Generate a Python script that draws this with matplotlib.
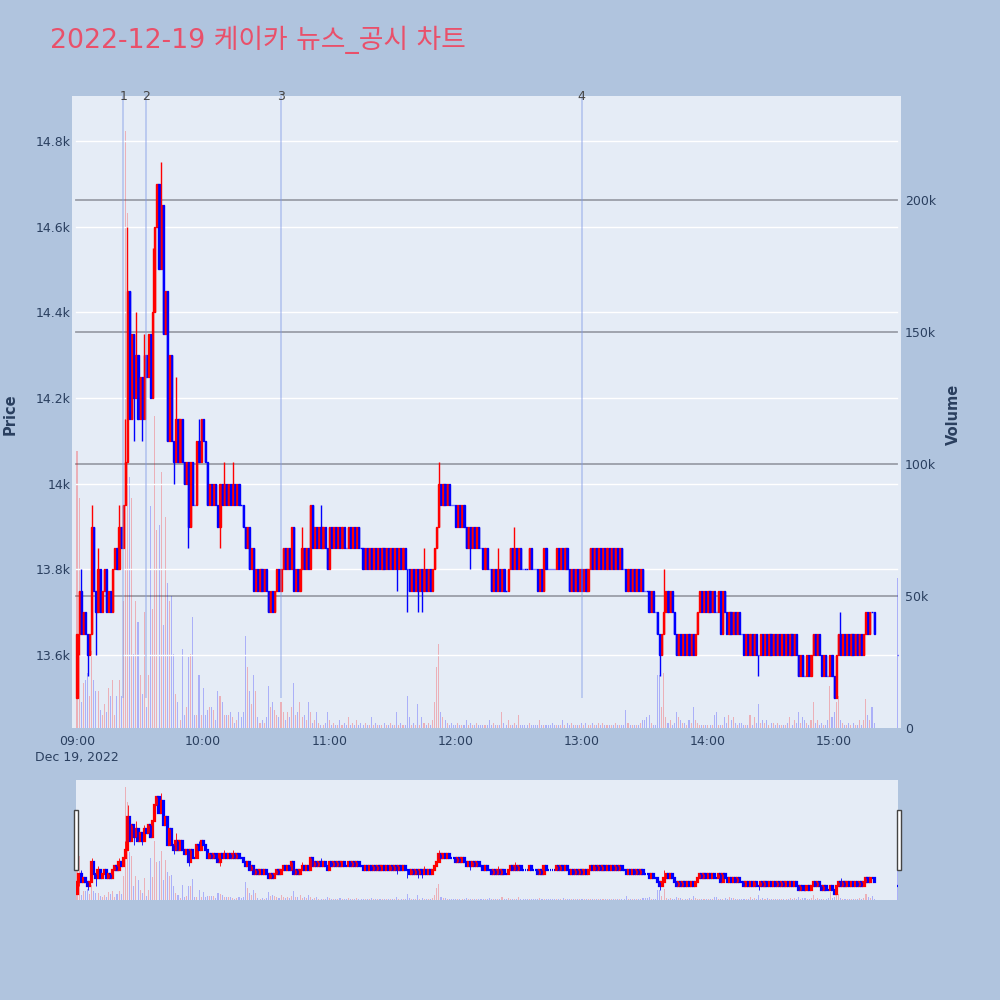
import matplotlib
matplotlib.use("Agg")
import matplotlib.pyplot as plt
import matplotlib.transforms as mtransforms
from matplotlib.patches import Rectangle
import numpy as np

plt.rcParams["font.family"] = ["Noto Sans CJK KR", "DejaVu Sans"]

TITLE = "2022-12-19 케이카 뉴스_공시 차트"

# 1-minute closes from 09:00 (index 0) to 15:19, opens chain from the previous close
first_open = 13500
closes = [
    13650, 13750, 13650, 13700, 13650, 13600, 13650, 13900, 13750, 13700,  # 09:00
    13800, 13700, 13750, 13800, 13700, 13750, 13700, 13800, 13850, 13800,  # 09:10
    13900, 13850, 13950, 14050, 14450, 14150, 14350, 14200, 14300, 14150,  # 09:20
    14250, 14150, 14300, 14250, 14350, 14200, 14400, 14600, 14700, 14500,  # 09:30
    14650, 14350, 14450, 14100, 14300, 14100, 14050, 14150, 14050, 14150,  # 09:40
    14050, 14000, 14050, 13900, 14050, 13950, 13950, 14100, 14050, 14150,  # 09:50
    14100, 14050, 13950, 14000, 13950, 14000, 13950, 13900, 14000, 13950,  # 10:00
    14000, 13950, 14000, 13950, 14000, 13950, 14000, 13950, 13950, 13900,  # 10:10
    13850, 13900, 13800, 13850, 13750, 13800, 13750, 13800, 13750, 13800,  # 10:20
    13750, 13700, 13750, 13700, 13750, 13800, 13750, 13800, 13850, 13800,  # 10:30
    13850, 13800, 13900, 13750, 13800, 13750, 13800, 13850, 13800, 13850,  # 10:40
    13800, 13950, 13850, 13900, 13850, 13900, 13850, 13900, 13850, 13800,  # 10:50
    13900, 13850, 13900, 13850, 13900, 13850, 13900, 13850, 13850, 13900,  # 11:00
    13850, 13900, 13850, 13900, 13850, 13850, 13800, 13850, 13800, 13850,  # 11:10
    13800, 13850, 13800, 13850, 13800, 13850, 13800, 13850, 13800, 13850,  # 11:20
    13800, 13850, 13800, 13850, 13800, 13850, 13800, 13800, 13750, 13800,  # 11:30
    13750, 13800, 13750, 13800, 13750, 13800, 13750, 13800, 13750, 13800,  # 11:40
    13850, 13900, 14000, 13950, 14000, 13950, 14000, 13950, 13950, 13950,  # 11:50
    13900, 13950, 13900, 13950, 13900, 13850, 13900, 13850, 13900, 13850,  # 12:00
    13900, 13850, 13850, 13800, 13850, 13800, 13800, 13750, 13800, 13750,  # 12:10
    13800, 13750, 13800, 13750, 13750, 13800, 13850, 13800, 13850, 13800,  # 12:20
    13850, 13800, 13800, 13800, 13800, 13850, 13800, 13800, 13800, 13750,  # 12:30
    13800, 13750, 13850, 13800, 13800, 13800, 13800, 13800, 13850, 13800,  # 12:40
    13850, 13800, 13850, 13800, 13750, 13800, 13750, 13800, 13750, 13800,  # 12:50
    13750, 13800, 13750, 13800, 13850, 13800, 13850, 13800, 13850, 13800,  # 13:00
    13850, 13800, 13850, 13800, 13850, 13800, 13850, 13800, 13850, 13800,  # 13:10
    13800, 13750, 13800, 13750, 13800, 13750, 13800, 13750, 13800, 13750,  # 13:20
    13750, 13750, 13700, 13750, 13700, 13700, 13650, 13600, 13650, 13700,  # 13:30
    13750, 13700, 13750, 13700, 13650, 13600, 13650, 13600, 13650, 13600,  # 13:40
    13650, 13600, 13650, 13600, 13650, 13700, 13750, 13700, 13750, 13700,  # 13:50
    13750, 13700, 13750, 13700, 13700, 13750, 13650, 13750, 13700, 13650,  # 14:00
    13700, 13650, 13700, 13650, 13700, 13650, 13650, 13600, 13650, 13600,  # 14:10
    13650, 13600, 13650, 13600, 13600, 13650, 13600, 13650, 13600, 13650,  # 14:20
    13600, 13650, 13600, 13650, 13600, 13650, 13600, 13650, 13600, 13650,  # 14:30
    13600, 13650, 13600, 13550, 13600, 13550, 13550, 13600, 13550, 13600,  # 14:40
    13650, 13600, 13650, 13600, 13550, 13600, 13550, 13550, 13600, 13550,  # 14:50
    13500, 13600, 13650, 13600, 13650, 13600, 13650, 13600, 13650, 13600,  # 15:00
    13650, 13600, 13650, 13600, 13650, 13700, 13650, 13700, 13700, 13650,  # 15:10
]
# wicks beyond the bodies: minute index -> price
wick_high = {2: 13800, 7: 13950, 10: 13850, 20: 13950, 23: 14150, 24: 14600,
             28: 14400, 32: 14350, 36: 14550, 39: 14650, 40: 14750, 47: 14250,
             58: 14150, 70: 14050, 74: 14050, 102: 13900, 107: 13900, 116: 13950,
             165: 13850, 172: 14050, 200: 13850, 208: 13900, 279: 13800,
             363: 13700}
wick_low = {1: 13600, 5: 13550, 9: 13600, 27: 14100, 31: 14100, 46: 14000,
            53: 13850, 68: 13850, 119: 13800, 152: 13750, 157: 13700,
            162: 13700, 164: 13700, 187: 13800, 277: 13550, 324: 13550,
            360: 13500}

# volume per minute, thousands of shares
volumes_k = [
    105, 87, 10, 17, 18, 21, 12, 29, 18, 14, 14, 7, 5, 9, 6, 15, 12, 18, 5, 12,
    18, 12, 48, 226, 195, 95, 87, 28, 48, 40, 20, 13, 44, 8, 20, 84, 45, 118, 75, 77,
    97, 39, 80, 55, 48, 50, 28, 13, 10, 3, 30, 5, 8, 27, 28, 42, 5, 5, 20, 5,
    15, 5, 7, 8, 8, 7, 3, 14, 12, 10, 5, 5, 5, 6, 4, 2, 3, 6, 4, 6,
    35, 23, 14, 9, 20, 14, 4, 2, 3, 2, 4, 16, 8, 10, 7, 5, 4, 10, 6, 3,
    6, 4, 8, 17, 5, 6, 10, 4, 5, 3, 10, 6, 2, 3, 6, 2, 1, 1, 2, 6,
    3, 1, 2, 1, 1, 3, 1, 2, 1, 4, 1, 2, 1, 3, 1, 2, 1, 2, 1, 1,
    4, 1, 2, 1, 1, 1, 2, 1, 1, 2, 1, 1, 6, 1, 2, 1, 1, 12, 4, 1,
    2, 1, 9, 1, 4, 2, 1, 2, 1, 3, 10, 23, 32, 6, 4, 3, 2, 1, 2, 1,
    1, 2, 1, 1, 1, 3, 1, 2, 1, 1, 2, 1, 1, 1, 1, 1, 3, 1, 2, 1,
    1, 1, 6, 2, 1, 3, 1, 1, 2, 1, 5, 1, 1, 1, 1, 2, 1, 1, 1, 1,
    3, 1, 1, 1, 1, 1, 2, 1, 1, 1, 1, 3, 1, 2, 1, 2, 1, 1, 1, 1,
    2, 1, 2, 1, 1, 2, 1, 1, 2, 1, 2, 1, 1, 1, 1, 1, 2, 1, 1, 1,
    1, 7, 2, 1, 1, 1, 1, 1, 2, 3, 3, 4, 5, 2, 1, 1, 20, 20, 8, 21,
    4, 2, 3, 1, 2, 6, 4, 3, 2, 2, 1, 3, 2, 8, 3, 2, 1, 1, 1, 1,
    1, 1, 1, 5, 6, 1, 1, 1, 4, 2, 5, 3, 4, 2, 1, 2, 2, 1, 1, 1,
    5, 1, 4, 2, 9, 2, 3, 2, 3, 1, 2, 2, 1, 2, 1, 1, 1, 1, 2, 4,
    1, 3, 2, 6, 2, 4, 3, 2, 1, 3, 10, 2, 3, 1, 2, 1, 1, 3, 16, 4,
    6, 10, 12, 3, 2, 1, 1, 2, 1, 2, 1, 1, 3, 1, 3, 11, 5, 3, 8, 2,
]
# closing auction at 15:30
auction_minute = 390
auction_price = 13600
auction_volume_k = 57

event_times = ["09:22", "09:33", "10:37", "13:00"]
event_labels = ["1", "2", "3", "4"]

time_ticks = ["09:00", "10:00", "11:00", "12:00", "13:00", "14:00", "15:00"]
price_ticks = [13600, 13800, 14000, 14200, 14400, 14600, 14800]
volume_ticks = [0, 50000, 100000, 150000, 200000]

UP = "#ff0000"
DOWN = "#0000ff"
BG = "#B0C4DE"
PLOT_BG = "#E5ECF6"
TXT = "#2a3f5f"


def to_minute(hhmm):
    h, m = hhmm.split(":")
    return (int(h) - 9) * 60 + int(m)


# assemble OHLC
x = list(range(len(closes))) + [auction_minute]
c = np.array(closes + [auction_price], dtype=float)
o = np.concatenate([[first_open], c[:-2], [auction_price]])
hi = np.maximum(o, c)
lo = np.minimum(o, c)
for k, v in wick_high.items():
    hi[k] = max(hi[k], v)
for k, v in wick_low.items():
    lo[k] = min(lo[k], v)
x = np.array(x, dtype=float)
vol = np.array(volumes_k + [auction_volume_k], dtype=float) * 1000
col = np.where(c > o, UP, DOWN)

PRICE_LIM = (13429.6, 14905)
VOL_LIM = (0, 239400)


def draw(ax_vol, ax_p, body_w, wick_lw, edge_lw, bar_w):
    ax_vol.bar(x, vol, width=bar_w, color=col, alpha=0.25, linewidth=0)
    ax_p.vlines(x, lo, hi, colors=col, linewidth=wick_lw)
    ax_p.bar(x, c - o, bottom=o, width=body_w, color=col, edgecolor=col,
             linewidth=edge_lw)
    ax_vol.set_ylim(*VOL_LIM)
    ax_p.set_ylim(*PRICE_LIM)


fig = plt.figure(figsize=(10, 10), dpi=100, facecolor=BG)

# ---- main chart
ax_vol = fig.add_axes([0.072, 0.272, 0.829, 0.632])
ax_vol.set_facecolor(PLOT_BG)
ax_p = ax_vol.twinx()
ax_vol.set_zorder(0)
ax_p.set_zorder(1)
ax_p.patch.set_visible(False)
xlim = (-2.38, 391.8)
ax_vol.set_xlim(*xlim)

draw(ax_vol, ax_p, body_w=0.55, wick_lw=1.0, edge_lw=1.0, bar_w=0.5)

for v in volume_ticks[1:]:
    ax_vol.axhline(v, xmin=0.005, xmax=0.995, color="#9a9ea8", linewidth=1.3, zorder=0.5)
for p in price_ticks:
    ax_p.axhline(p, xmin=0.005, xmax=0.995, color="white", linewidth=1.0, zorder=0.5)

# event markers
trans = mtransforms.blended_transform_factory(ax_p.transData, ax_p.transAxes)
for t, lab in zip(event_times, event_labels):
    m = to_minute(t)
    ax_p.vlines(m, 13500, PRICE_LIM[1], colors="#7f99e6", alpha=0.45, linewidth=1.3)
    ax_p.text(m, 1.0, lab, transform=trans, ha="center", va="center",
              fontsize=9, color="#444444", family="DejaVu Sans")

for ax in (ax_vol, ax_p):
    for s in ax.spines.values():
        s.set_visible(False)
    ax.tick_params(length=0)

ax_p.yaxis.tick_left()
ax_p.set_yticks(price_ticks)
ax_p.set_yticklabels([f"{p / 1000:g}k" for p in price_ticks], color=TXT,
                     fontsize=9, family="DejaVu Sans")
ax_p.tick_params(axis="y", pad=1)
ax_vol.yaxis.tick_right()
ax_vol.set_yticks(volume_ticks)
ax_vol.set_yticklabels(["0"] + [f"{v // 1000}k" for v in volume_ticks[1:]],
                       color=TXT, fontsize=9, family="DejaVu Sans")
ax_vol.tick_params(axis="y", pad=3)

ax_vol.set_xticks([to_minute(t) for t in time_ticks])
ax_vol.set_xticklabels(time_ticks, color=TXT, fontsize=9, family="DejaVu Sans")
ax_vol.tick_params(axis="x", pad=5)
ax_p.set_xlim(*xlim)

fig.text(0.077, 0.243, "Dec 19, 2022", ha="center", va="center", color=TXT,
         fontsize=9, family="DejaVu Sans")
fig.text(0.010, 0.586, "Price", rotation=90, ha="center", va="center",
         color=TXT, fontsize=10.5, fontweight="bold", family="DejaVu Sans")
fig.text(0.953, 0.586, "Volume", rotation=90, ha="center", va="center",
         color=TXT, fontsize=10.5, fontweight="bold", family="DejaVu Sans")
fig.text(0.050, 0.960, TITLE, ha="left", va="center", color="#E9506A",
         fontsize=19.3, family=["DejaVu Sans", "Noto Sans CJK KR"])

# ---- range slider
rs_vol = fig.add_axes([0.076, 0.100, 0.822, 0.120])
rs_vol.set_facecolor(PLOT_BG)
rs_p = rs_vol.twinx()
rs_vol.set_zorder(0)
rs_p.set_zorder(1)
rs_p.patch.set_visible(False)
rs_xlim = (-0.48, 390.2)
rs_vol.set_xlim(*rs_xlim)
draw(rs_vol, rs_p, body_w=0.6, wick_lw=0.6, edge_lw=1.6, bar_w=0.5)
rs_p.set_xlim(*rs_xlim)
for ax in (rs_vol, rs_p):
    for s in ax.spines.values():
        s.set_visible(False)
    ax.set_xticks([])
    ax.set_yticks([])

for hx in (0.0735, 0.8965):
    fig.patches.append(Rectangle((hx, 0.130), 0.004, 0.060, transform=fig.transFigure,
                                 facecolor="white", edgecolor="#444444",
                                 linewidth=1.0, zorder=5))

fig.savefig("out.png", dpi=100, facecolor=BG)
